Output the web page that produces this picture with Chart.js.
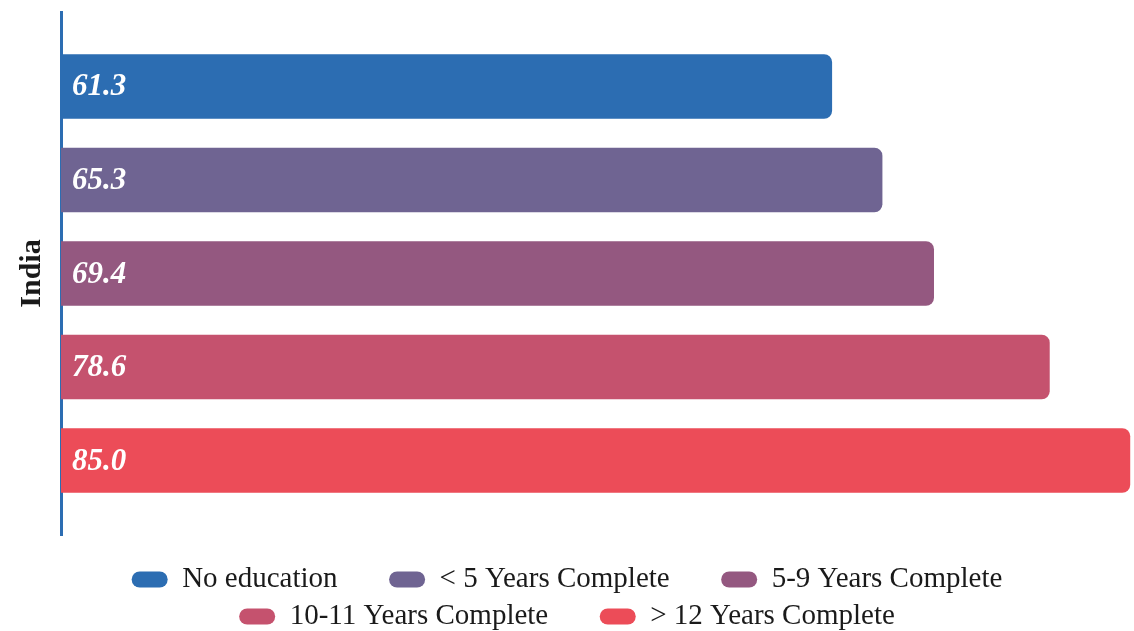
<!DOCTYPE html>
<html>
<head>
<meta charset="utf-8">
<script src="https://cdn.jsdelivr.net/npm/chart.js@4/dist/chart.umd.min.js"></script>
<style>
  html, body { margin: 0; padding: 0; background: #fff; }
  #wrap { width: 1134px; height: 631px; position: relative; }
</style>
</head>
<body>
<div id="wrap"><canvas id="chart"></canvas></div>
<script>
const categories = ['India'];
const seriesNames = ['No education', '< 5 Years Complete', '5-9 Years Complete', '10-11 Years Complete', '> 12 Years Complete'];
const seriesValues = [61.3, 65.3, 69.4, 78.6, 85.0];
const seriesColors = ['#2c6db2', '#6f6492', '#945880', '#c5526e', '#ec4c58'];
// items that are followed by another one on the same legend row
const legendGapAfter = [true, true, false, true, false];

const serif = '"Liberation Serif", "Times New Roman", serif';

const valueLabels = {
  id: 'valueLabels',
  afterDatasetsDraw(chart) {
    const ctx = chart.ctx;
    ctx.save();
    ctx.font = 'italic bold 31px ' + serif;
    ctx.fillStyle = '#ffffff';
    ctx.textAlign = 'left';
    ctx.textBaseline = 'middle';
    chart.data.datasets.forEach((ds, i) => {
      const meta = chart.getDatasetMeta(i);
      meta.data.forEach((bar, j) => {
        ctx.fillText(ds.data[j].toFixed(1), bar.base + 11, bar.y + 1);
      });
    });
    ctx.restore();
  }
};

new Chart(document.getElementById('chart'), {
  type: 'bar',
  data: {
    labels: categories,
    datasets: seriesNames.map((name, i) => ({
      label: name,
      data: [seriesValues[i]],
      backgroundColor: seriesColors[i],
      borderWidth: 0,
      borderRadius: 8,
      categoryPercentage: 0.894,
      barPercentage: 0.69,
    })),
  },
  options: {
    indexAxis: 'y',
    animation: false,
    responsive: true,
    maintainAspectRatio: false,
    layout: {
      padding: { top: 12, right: 0, bottom: -10, left: 0 },
    },
    scales: {
      x: {
        min: 0,
        max: 85.3,
        grid: { display: false },
        border: { display: false },
        ticks: { display: false },
        afterFit: (scale) => { scale.height = 22; },
      },
      y: {
        grid: { display: false },
        border: { display: true, color: '#2c6db2', width: 3 },
        ticks: { display: false },
        title: {
          display: true,
          text: 'India',
          color: '#1a1a1a',
          font: { family: serif, size: 30, weight: 'bold' },
          padding: { top: 14, bottom: 0 },
        },
        afterFit: (scale) => { scale.width = 61; },
      },
    },
    plugins: {
      tooltip: { enabled: false },
      legend: {
        position: 'bottom',
        labels: {
          color: '#1a1a1a',
          font: { family: serif, size: 29 },
          boxWidth: 36,
          boxHeight: 16,
          useBorderRadius: true,
          borderRadius: 8,
          padding: 8,
          generateLabels(chart) {
            const items = Chart.defaults.plugins.legend.labels.generateLabels(chart);
            items.forEach((item, i) => {
              if (legendGapAfter[i]) item.text = item.text + '\u2002\u2002\u2002';
            });
            return items;
          },
        },
      },
    },
  },
  plugins: [valueLabels],
});
</script>
</body>
</html>
